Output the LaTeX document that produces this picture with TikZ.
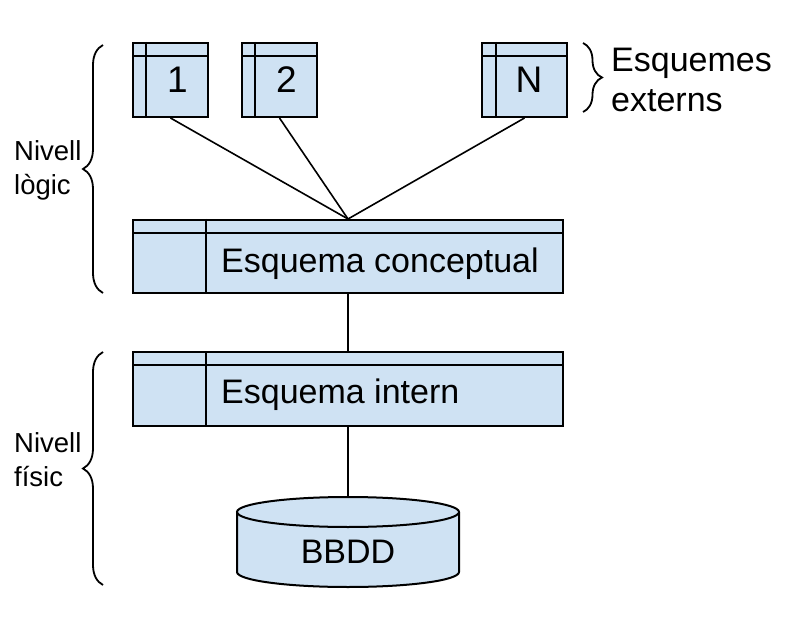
\documentclass[tikz,border=0pt]{standalone}
\usepackage{fontspec}
\setmainfont{Liberation Sans}
\usepackage{tikz}
\usetikzlibrary{calc,decorations.pathreplacing}

\definecolor{boxblue}{RGB}{207,226,243}
\tikzset{
  taula/.style={draw, fill=boxblue, line width=2pt, inner sep=0pt},
  lbl/.style={inner sep=0pt, font=\fontsize{34}{40}\selectfont},
  num/.style={inner sep=0pt, anchor=base, font=\fontsize{37}{40}\selectfont},
  clau/.style={decorate, decoration={brace, amplitude=#1}, line width=1.8pt},
  lvl/.style={inner sep=0pt, align=left, anchor=west, font=\fontsize{27.5}{34}\selectfont}
}

\begin{document}
\begin{tikzpicture}[x=1pt,y=1pt]
\fill[white] (0,0) rectangle (787,625);
\useasboundingbox (0,0) rectangle (787,625);

% external schemas
\node[taula, minimum width=75pt, minimum height=74pt] (ext1) at (170.5,545) {};
\node[taula, minimum width=75pt, minimum height=74pt] (ext2) at (279.5,545) {};
\node[taula, minimum width=85pt, minimum height=74pt] (extN) at (524.5,545) {};
\node[num] (num1) at (177.5,532) {1};
\node[num] (num2) at (286.5,532) {2};
\node[num] (numN) at (529,532) {N};

% conceptual and internal schemas
\node[taula, minimum width=430pt, minimum height=73pt] (conceptual) at (348,368.5) {};
\node[taula, minimum width=430pt, minimum height=74pt] (intern) at (348,236) {};
\node[lbl, anchor=base west] (tconc) at (221,353) {Esquema conceptual};
\node[lbl, anchor=base west] (tint) at (221,222) {Esquema intern};

% header lines of the tables
\foreach \n/\c in {ext1/14, ext2/14, extN/15, conceptual/74, intern/74} {
  \draw[line width=2pt] ([xshift=\c pt]\n.north west) -- ([xshift=\c pt]\n.south west);
  \draw[line width=2pt] ([yshift=-14pt]\n.north west) -- ([yshift=-14pt]\n.north east);
}

% database
\fill[boxblue] (237,113) -- (237,53) arc (180:360:111 and 15) -- (459,113) arc (0:180:111 and 15) -- cycle;
\draw[line width=2pt] (237,113) -- (237,53) arc (180:360:111 and 15) -- (459,113);
\draw[line width=2pt] (348,113) ellipse (111 and 15);
\coordinate (dbtop) at (348,128);
\node[lbl, anchor=base] (tbbdd) at (348,62) {BBDD};

% connectors
\draw[line width=1.6pt] (ext1.south) -- (conceptual.north);
\draw[line width=1.6pt] (ext2.south) -- (conceptual.north);
\draw[line width=1.6pt] (extN.south) -- (conceptual.north);
\draw[line width=1.6pt] (conceptual.south) -- (intern.north);
\draw[line width=1.6pt] (intern.south) -- (dbtop);

% braces and levels
\draw[clau=19pt] (583,582) -- (583,513);
\node[lbl, align=left, anchor=west] (texterns) at (611,545) {Esquemes\\externs};
\draw[clau=20pt] (103,332) -- (103,580);
\node[lvl] (tlogic) at (14,455) {Nivell\\lògic};
\draw[clau=20pt] (103,40) -- (103,273);
\node[lvl] (tfisic) at (14,165) {Nivell\\físic};
\end{tikzpicture}
\end{document}
